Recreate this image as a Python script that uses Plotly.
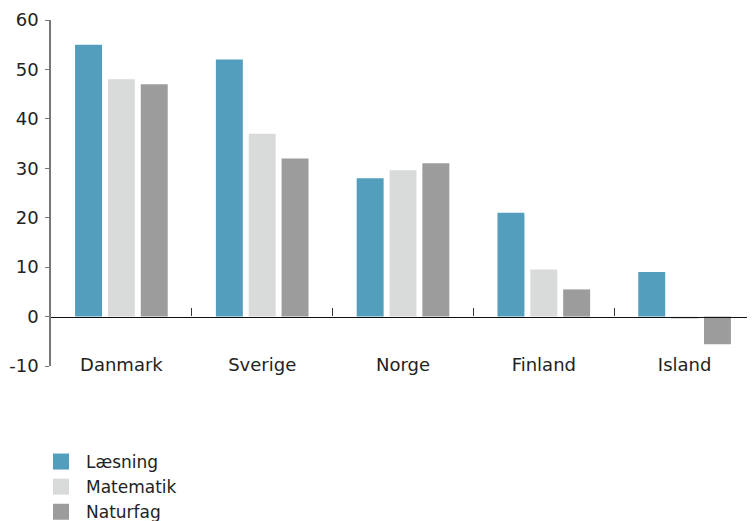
import plotly.graph_objects as go

countries = ["Danmark", "Sverige", "Norge", "Finland", "Island"]
laesning = [55, 52, 28, 21, 9]
matematik = [48, 37, 29.6, 9.5, -0.5]
naturfag = [47, 32, 31, 5.5, -5.6]
series_names = ["Læsning", "Matematik", "Naturfag"]
colors = ["#529EBC", "#D9DBDA", "#9C9C9C"]
y_ticks = [-10, 0, 10, 20, 30, 40, 50, 60]
y_ticktext = ["-10", "0", "10", "20", "30", "40", "50", "60"]

FONT = "DejaVu Sans"
fig = go.Figure()
for name, vals, col in zip(series_names, [laesning, matematik, naturfag], colors):
    fig.add_trace(go.Bar(x=countries, y=vals, name=name, marker_color=col,
                         marker_line_width=0, showlegend=False, xaxis="x", yaxis="y"))
    fig.add_trace(go.Scatter(x=[None], y=[None], mode="markers", name=name,
                             marker=dict(symbol="square", size=18, color=col),
                             showlegend=True))

# helper trace for the zero-line category axis
fig.add_trace(go.Scatter(x=countries, y=[None]*len(countries), mode="markers",
                         xaxis="x2", yaxis="y", showlegend=False, hoverinfo="skip"))

# page has an 8px body margin; the figure fills the rest of the 755x521 window
W, H = 747, 513
ml, mr, mt, mb = 43, 0, 12, 155
ymin, ymax = -10, 60
zero_frac = (0 - ymin) / (ymax - ymin)

fig.update_layout(
    width=W, height=H,
    margin=dict(l=ml, r=mr, t=mt, b=mb, autoexpand=False),
    paper_bgcolor="white", plot_bgcolor="white",
    barmode="group", bargap=0.3, bargroupgap=0.18,
    font=dict(family=FONT, size=18, color="#222222"),
    xaxis=dict(type="category", categoryarray=countries, range=[-0.5, 4.5],
               anchor="free", position=0.04,
               showline=False, ticks="", showgrid=False, zeroline=False,
               tickfont=dict(size=18, color="#222222")),
    xaxis2=dict(type="category", categoryarray=countries, range=[-0.5, 4.5],
                overlaying="x", anchor="free", position=zero_frac,
                showline=True, linecolor="#111111", linewidth=1.3,
                ticks="inside", tickson="boundaries", ticklen=8, tickwidth=1.2,
                tickcolor="#333333", showticklabels=False, showgrid=False, zeroline=False),
    yaxis=dict(range=[ymin, ymax], tickvals=y_ticks, ticktext=y_ticktext,
               showgrid=False, zeroline=False,
               showline=True, linecolor="#777777", linewidth=1.5,
               ticks="outside", ticklen=4, tickcolor="#777777", tickwidth=1.2,
               tickfont=dict(size=18, color="#222222"), ticklabelstandoff=3),
    legend=dict(xref="container", yref="container", x=28/W, y=1 - 436/H,
                xanchor="left", yanchor="top", font=dict(size=17, color="#222222"),
                tracegroupgap=0, itemwidth=40, bgcolor="rgba(0,0,0,0)"),
)

fig.write_html("out.html")
